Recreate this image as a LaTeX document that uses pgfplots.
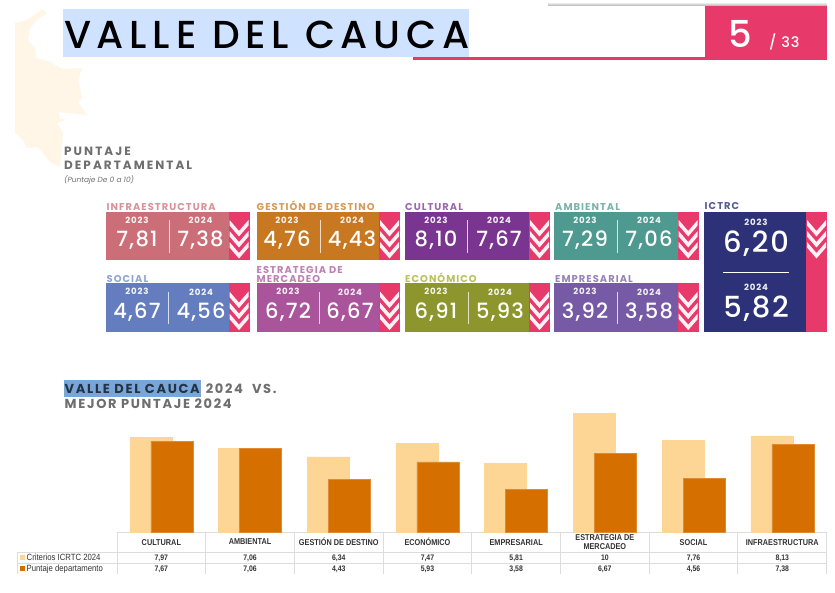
\documentclass[border=0pt]{standalone}
\usepackage{fontspec}
\usepackage{pgfplots}
\pgfplotsset{compat=1.18}
\setmainfont{Poppins}
\newfontfamily\ttl[LetterSpace=14.7]{Poppins Medium}
\newfontfamily\lbl[LetterSpace=10.5]{Poppins}
\newfontfamily\lblw[LetterSpace=17]{Poppins}
\newfontfamily\lblh[LetterSpace=13]{Poppins}
\newfontfamily\num[LetterSpace=6]{Poppins Medium}
\newfontfamily\tbl[FakeStretch=0.86]{Liberation Sans}
\definecolor{pinkb}{HTML}{E8396B}
\definecolor{lightb}{HTML}{FDD595}
\definecolor{darkb}{HTML}{D46F00}
\definecolor{gridc}{HTML}{DDDDDD}
\definecolor{greyt}{HTML}{6E6E6E}
\definecolor{mapc}{HTML}{FFF6E8}
\definecolor{hlt}{HTML}{CFE2FF}
\definecolor{hlb}{HTML}{78A6D8}
\definecolor{cInfra}{HTML}{CC6E78}
\definecolor{cGest}{HTML}{C87820}
\definecolor{cCult}{HTML}{7A3590}
\definecolor{cAmb}{HTML}{4F9A90}
\definecolor{cSoc}{HTML}{647DBE}
\definecolor{cEst}{HTML}{AA559B}
\definecolor{cEco}{HTML}{8C962D}
\definecolor{cEmp}{HTML}{765AA5}
\definecolor{cIct}{HTML}{2D3278}
\newcommand{\chev}[3]{%
  \pgfmathsetmacro{\xc}{(#1+#2)/2}%
  \fill[white!93!pinkb] (#1,#3) -- (\xc,#3+11) -- (#2,#3) -- (#2,#3+5.5) -- (\xc,#3+16.5) -- (#1,#3+5.5) -- cycle;}
\newcommand{\tile}[9]{%
  \pgfmathsetmacro{\xp}{#2+21}%
  \pgfmathsetmacro{\yb}{#3+48.3}%
  \fill[#4] (#1,#3) rectangle (#2,\yb);
  \fill[pinkb] (#2,#3) rectangle (\xp,\yb);
  \foreach \k in {8.3,19.3,30.3}{%
    \pgfmathsetmacro{\yy}{#3+\k}%
    \chev{#2+1}{\xp-1}{\yy}}
  \draw[white!75!#4,line width=.7pt] (#7,#3+8.5) -- (#7,#3+41);
  \node[text=white!92!#4,font=\lbl\bfseries\fontsize{8.6}{9}\selectfont] at (#5,#3+8.5) {2023};
  \node[text=white!92!#4,font=\lbl\bfseries\fontsize{8.6}{9}\selectfont] at (#6,#3+8.5) {2024};
  \node[text=white,font=\num\fontsize{21}{23}\selectfont] at (#5,#3+28.5) {#8};
  \node[text=white,font=\num\fontsize{21}{23}\selectfont] at (#6,#3+28.5) {#9};}
\newcommand{\hd}[4]{\node[anchor=base west,inner sep=0pt,text=#3,font=\lbl\bfseries\fontsize{9.9}{10}\selectfont] at (#1,#2) {#4};}
\begin{document}
\begin{tikzpicture}
\path[use as bounding box,fill=white] (0pt,0pt) rectangle (835pt,-592pt);
\begin{scope}[x=1pt,y=-1pt]
% map silhouette
\fill[mapc] (42,9) -- (47,13) -- (37,20) -- (30,28) -- (28,40) -- (35,48) -- (36,58) -- (50,62) -- (62,69) -- (82,68) -- (78,80) -- (82,98) -- (78,102) -- (87,115) -- (59,112) -- (59,117) -- (65,120) -- (57,123) -- (63,133) -- (62,147) -- (60,167) -- (50,162) -- (38,147) -- (27,148) -- (23,140) -- (15,133) -- (15,23) -- (27,20) -- (37,13) -- cycle;
% title
\fill[hlt] (63,9) rectangle (469,57);
\node[anchor=base west,inner sep=0pt,text=black,font=\ttl\fontsize{39}{40}\selectfont] at (64,48) {VALLE DEL CAUCA};
\shade[top color=white,bottom color=gray!55] (548,2) rectangle (827,5.5);
\fill[pinkb] (413,57) rectangle (827,60);
\fill[pinkb] (705,6) rectangle (827,60);
\node[anchor=base,inner sep=0pt,text=white,font=\num\fontsize{37}{38}\selectfont] at (740,47.5) {5};
\node[anchor=base west,inner sep=0pt,text=white,font=\num\fontsize{14.5}{16}\selectfont] at (769,47.5) {/ 33};
% subtitle
\node[anchor=base west,inner sep=0pt,text=greyt,font=\lblw\bfseries\fontsize{12}{12}\selectfont] at (64,155) {PUNTAJE};
\node[anchor=base west,inner sep=0pt,text=greyt,font=\lblw\bfseries\fontsize{12}{12}\selectfont] at (64,169) {DEPARTAMENTAL};
\node[anchor=base west,inner sep=0pt,text=greyt,font=\itshape\fontsize{7.4}{8}\selectfont] at (64,182) {(Puntaje De 0 a 10)};
% tiles
\hd{106.5}{210.5}{cInfra!75!white}{INFRAESTRUCTURA}
\hd{256.5}{210.5}{cGest!75!white}{GESTIÓN DE DESTINO}
\hd{405}{210.5}{cCult!75!white}{CULTURAL}
\hd{555}{210.5}{cAmb!75!white}{AMBIENTAL}
\hd{704.5}{209}{cIct!80!white}{ICTRC}
\hd{106.5}{282}{cSoc!70!white}{SOCIAL}
\hd{256.5}{273}{cEst!75!white}{ESTRATEGIA DE}
\hd{256.5}{282}{cEst!75!white}{MERCADEO}
\hd{405}{282}{cEco!80!yellow!75!white}{ECONÓMICO}
\hd{555}{282}{cEmp!75!white}{EMPRESARIAL}
\tile{106}{228.5}{211.7}{cInfra}{137}{200.5}{169}{7,81}{7,38}
\tile{256.7}{379}{211.7}{cGest}{287}{352}{320}{4,76}{4,43}
\tile{404.7}{529}{211.7}{cCult}{436}{499}{467}{8,10}{7,67}
\tile{554}{677.7}{211.7}{cAmb}{585}{649}{617}{7,29}{7,06}
\tile{106}{228.5}{283.3}{cSoc}{137}{201}{168}{4,67}{4,56}
\tile{256.7}{379}{283.3}{cEst}{288}{350}{319}{6,72}{6,67}
\tile{404.7}{529}{283.3}{cEco}{436}{500}{468}{6,91}{5,93}
\tile{554}{677.7}{283.3}{cEmp}{585}{649}{617}{3,92}{3,58}
% ICTRC
\fill[cIct] (704,211.7) rectangle (806,331.7);
\fill[pinkb] (806,211.7) rectangle (827,331.7);
\chev{807}{826}{220}\chev{807}{826}{231}\chev{807}{826}{242}
\draw[white,line width=.7pt] (723,272) -- (789,272);
\node[text=white!92!cIct,font=\lbl\bfseries\fontsize{8.6}{9}\selectfont] at (756,222) {2023};
\node[text=white!92!cIct,font=\lbl\bfseries\fontsize{8.6}{9}\selectfont] at (756,287) {2024};
\node[text=white,font=\num\fontsize{29}{31}\selectfont] at (756,244) {6,20};
\node[text=white,font=\num\fontsize{29}{31}\selectfont] at (756,309) {5,82};
% chart heading
\fill[hlb] (64,380) rectangle (201,397);
\node[anchor=base west,inner sep=0pt,font=\lblh\bfseries\fontsize{13}{13}\selectfont] at (64.5,393.5) {\textcolor{black!70!hlb}{VALLE DEL CAUCA}\hspace{6pt}\textcolor{greyt}{2024\hspace{9pt}VS.}};
\node[anchor=base west,inner sep=0pt,text=greyt,font=\lblh\bfseries\fontsize{13}{13}\selectfont] at (64.5,408) {MEJOR PUNTAJE 2024};
% table grid
\foreach \x in {117,205.7,294.4,383.1,471.8,560.5,649.2,737.9,826.6}{\draw[gridc,line width=.9pt] (\x,532) -- (\x,573.5);}
\draw[gridc,line width=.9pt] (17.5,552) -- (17.5,573.5);
\draw[gridc,line width=.9pt] (117,532) -- (826.6,532);
\draw[gridc,line width=.9pt] (17.5,552) -- (826.6,552);
\draw[gridc,line width=.9pt] (17.5,563) -- (826.6,563);
\fill[lightb] (20,555) rectangle (25,560);
\fill[darkb] (20,566) rectangle (25,571);
\node[anchor=base west,inner sep=0pt,text=black!80,font=\tbl\fontsize{9}{10}\selectfont] at (26.5,560.3) {Criterios ICRTC 2024};
\node[anchor=base west,inner sep=0pt,text=black!80,font=\tbl\fontsize{9}{10}\selectfont] at (26.5,571.3) {Puntaje departamento};
\foreach \x/\a/\b in {161.35/{7,97}/{7,67},250.05/{7,06}/{7,06},338.75/{6,34}/{4,43},427.45/{7,47}/{5,93},516.15/{5,81}/{3,58},604.85/{10}/{6,67},693.55/{7,76}/{4,56},782.25/{8,13}/{7,38}}{
  \node[text=black!80,inner sep=0pt,anchor=base,font=\tbl\bfseries\fontsize{8}{8}\selectfont] at (\x,560.3) {\a};
  \node[text=black!80,inner sep=0pt,anchor=base,font=\tbl\bfseries\fontsize{8}{8}\selectfont] at (\x,571.3) {\b};}
\end{scope}
\begin{axis}[
  at={(117pt,-532pt)},anchor=south west,
  scale only axis,width=709.6pt,height=118.4pt,
  xmin=-0.5,xmax=7.5,ymin=0,ymax=10,
  axis y line=none,axis x line=none,
  clip=false,
  xtick=data,
  ybar,
  bar width=42pt,
]
\addplot[fill=lightb,draw=lightb,bar shift=-10.5pt] coordinates {(0,7.97)(1,7.06)(2,6.34)(3,7.47)(4,5.81)(5,10)(6,7.76)(7,8.13)};
\addplot[fill=darkb,draw=darkb!80!white,bar shift=10.5pt] coordinates {(0,7.67)(1,7.06)(2,4.43)(3,5.93)(4,3.58)(5,6.67)(6,4.56)(7,7.38)};
\foreach \i/\n in {0/CULTURAL,1/AMBIENTAL,2/GESTIÓN DE DESTINO,3/ECONÓMICO,4/EMPRESARIAL,5/{ESTRATEGIA DE\\MERCADEO},6/SOCIAL,7/INFRAESTRUCTURA}{
  \edef\temp{\noexpand\node[text=black!80,align=center,inner sep=0pt,font=\noexpand\tbl\noexpand\bfseries\noexpand\fontsize{8.5}{9.5}\noexpand\selectfont] at (axis cs:\i,-0.85) {\unexpanded\expandafter{\n}};}\temp}
\end{axis}
\end{tikzpicture}
\end{document}
